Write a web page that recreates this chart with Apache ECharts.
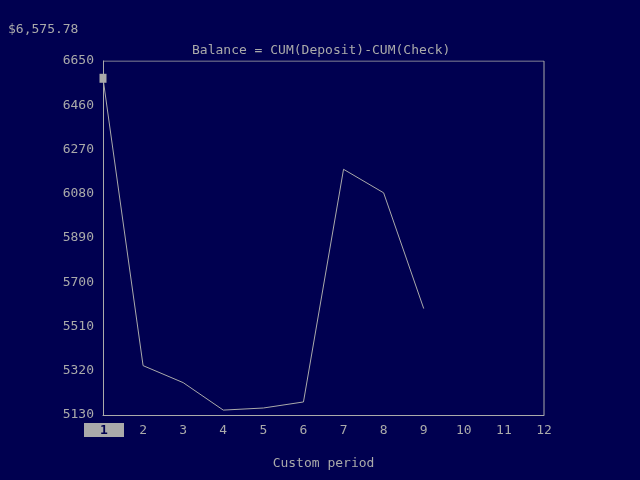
<!DOCTYPE html>
<html>
<head>
<meta charset="utf-8">
<script src="https://cdn.jsdelivr.net/npm/echarts@6/dist/echarts.min.js"></script>
<style>
  html, body { margin: 0; padding: 0; background: #000050; }
  #chart { width: 640px; height: 480px; }
</style>
</head>
<body>
<div id="chart"></div>
<script>
var periods = ['1', '2', '3', '4', '5', '6', '7', '8', '9', '10', '11', '12'];
var balance = [6575.78, 5342, 5269, 5151, 5160, 5186, 6185, 6084, 5587];
var yTicks = [5130, 5320, 5510, 5700, 5890, 6080, 6270, 6460, 6650];
var currentValue = '$6,575.78';
var titleText = 'Balance = CUM(Deposit)-CUM(Check)';
var xName = 'Custom period';
var selectedPeriod = 1;

var fg = '#aaaaaa';
var bg = '#000050';
var mono = 'DejaVu Sans Mono';

var chart = echarts.init(document.getElementById('chart'));

// line points; the first one carries the cursor box
var points = balance.map(function (v, i) {
  var item = { value: [i + 1, v] };
  if (i === 0) {
    item.symbol = 'rect';
    item.symbolSize = [7, 9];
    item.itemStyle = { color: fg };
  }
  return item;
});

chart.setOption({
  backgroundColor: bg,
  animation: false,
  title: {
    text: titleText,
    left: 187,
    top: 39,
    textStyle: { color: fg, fontFamily: mono, fontSize: 13, fontWeight: 'normal' }
  },
  grid: { left: 103, right: 96, top: 61, bottom: 65 },
  xAxis: {
    type: 'value',
    min: 1,
    max: 12,
    interval: 1,
    name: xName,
    nameLocation: 'middle',
    nameGap: 42,
    nameTextStyle: { color: fg, fontFamily: mono, fontSize: 13 },
    axisLine: { show: true, lineStyle: { color: fg, width: 1 } },
    axisTick: { show: false },
    splitLine: { show: false },
    axisLabel: {
      color: fg,
      fontFamily: mono,
      fontSize: 13,
      margin: 9,
      formatter: function (v) { return v === selectedPeriod ? '' : String(v); }
    }
  },
  yAxis: {
    type: 'value',
    min: yTicks[0],
    max: yTicks[yTicks.length - 1],
    interval: 190,
    axisLine: { show: true, lineStyle: { color: fg, width: 1 } },
    axisTick: { show: false },
    splitLine: { show: false },
    axisLabel: {
      color: fg, fontFamily: mono, fontSize: 13, margin: 9,
      formatter: function (v) { return String(v); }
    }
  },
  series: [{
    type: 'line',
    data: points,
    symbol: 'none',
    showSymbol: true,
    lineStyle: { color: fg, width: 1 },
    itemStyle: { color: fg }
  }, {
    // right and top frame of the plot box
    type: 'line',
    data: [[1, yTicks[yTicks.length - 1]], [12, yTicks[yTicks.length - 1]], [12, yTicks[0]]],
    symbol: 'none',
    silent: true,
    lineStyle: { color: fg, width: 1 }
  }]
});

// selected period label drawn inverted, placed from the x axis scale
var sx = chart.convertToPixel({ xAxisIndex: 0 }, selectedPeriod);
var sy = chart.convertToPixel({ yAxisIndex: 0 }, yTicks[0]);
chart.setOption({
  graphic: [{
    type: 'text',
    left: 8,
    top: 23,
    style: { text: currentValue, fill: fg, font: '13px "DejaVu Sans Mono"' }
  }, {
    type: 'rect',
    z: 10,
    shape: { x: sx - 19, y: sy + 8, width: 40, height: 14 },
    style: { fill: fg }
  }, {
    type: 'text',
    z: 11,
    x: sx + 1,
    y: sy + 16,
    style: {
      text: String(selectedPeriod), fill: '#000050', stroke: 'none', lineWidth: 0,
      font: 'bold 13px "DejaVu Sans Mono"', align: 'center', verticalAlign: 'middle'
    }
  }]
});
</script>
</body>
</html>
